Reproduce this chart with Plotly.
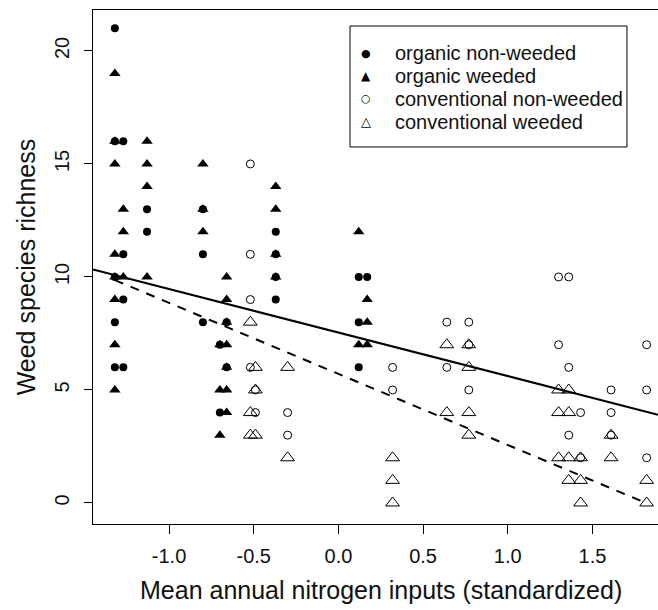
import plotly.graph_objects as go

# ---- data ----
org_nw_x = [-1.32, -1.32, -1.32, -1.32, -1.32,
            -1.27, -1.27, -1.27, -1.27,
            -1.13, -1.13,
            -0.80, -0.80, -0.80,
            -0.70, -0.70,
            -0.66, -0.66,
            -0.37, -0.37, -0.37, -0.37,
            0.12, 0.12, 0.12,
            0.17]
org_nw_y = [21, 16, 10, 8, 6,
            16, 11, 9, 6,
            13, 12,
            13, 11, 8,
            7, 4,
            8, 6,
            12, 11, 10, 9,
            10, 8, 6,
            10]

org_w_x = [-1.32, -1.32, -1.32, -1.32, -1.32, -1.32, -1.32, -1.32,
           -1.27, -1.27, -1.27,
           -1.13, -1.13, -1.13, -1.13,
           -0.80, -0.80, -0.80,
           -0.70, -0.70, -0.70,
           -0.66, -0.66, -0.66, -0.66, -0.66, -0.66, -0.66,
           -0.37, -0.37, -0.37, -0.37,
           0.12, 0.12,
           0.17, 0.17, 0.17]
org_w_y = [19, 16, 15, 11, 10, 9, 7, 5,
           13, 12, 10,
           16, 15, 14, 10,
           15, 13, 12,
           7, 5, 3,
           10, 9, 8, 7, 6, 5, 4,
           14, 13, 11, 10,
           12, 7,
           9, 8, 7]

conv_nw_x = [-0.52, -0.52, -0.52, -0.52,
             -0.49, -0.49,
             -0.30, -0.30,
             0.32, 0.32,
             0.64, 0.64,
             0.77, 0.77, 0.77,
             1.30, 1.30,
             1.36, 1.36, 1.36,
             1.43, 1.43,
             1.61, 1.61, 1.61,
             1.82, 1.82, 1.82]
conv_nw_y = [15, 11, 9, 6,
             4, 5,
             4, 3,
             6, 5,
             8, 6,
             8, 7, 5,
             10, 7,
             10, 6, 3,
             4, 2,
             5, 4, 3,
             7, 5, 2]

conv_w_x = [-0.52, -0.52, -0.52,
            -0.49, -0.49, -0.49,
            -0.30, -0.30,
            0.32, 0.32, 0.32,
            0.64, 0.64,
            0.77, 0.77, 0.77, 0.77,
            1.30, 1.30, 1.30,
            1.36, 1.36, 1.36, 1.36,
            1.43, 1.43, 1.43,
            1.61, 1.61,
            1.82, 1.82]
conv_w_y = [8, 4, 3,
            6, 5, 3,
            6, 2,
            2, 1, 0,
            7, 4,
            7, 6, 4, 3,
            5, 4, 2,
            5, 4, 2, 1,
            2, 1, 0,
            3, 2,
            1, 0]

# fitted lines: intercept, slope
solid_coef = (7.54, -1.925)
dashed_coef = (5.71, -3.145)
dashed_span = (-1.32, 1.82)

x_range = [-1.449, 1.887]
y_range = [-0.93, 21.81]
x_ticks = [-1.0, -0.5, 0.0, 0.5, 1.0, 1.5]
x_ticklabels = ["-1.0", "-0.5", "0.0", "0.5", "1.0", "1.5"]
y_ticks = [0, 5, 10, 15, 20]

legend_labels = ["organic non-weeded", "organic weeded",
                 "conventional non-weeded", "conventional weeded"]
legend_glyphs = ["\u25CF", "\u25B2", "\u25CB", "\u25B3"]
legend_glyph_sizes = [11, 12, 11, 13]

FONT = "Liberation Sans, Arial, sans-serif"
TXT = "#111111"

fig = go.Figure()

def add_pts(x, y, name, symbol, size, lw=1):
    fig.add_trace(go.Scatter(
        x=x, y=y, mode="markers", name=name, showlegend=False,
        marker=dict(symbol=symbol, size=size, color="black",
                    line=dict(color="black", width=lw)),
    ))

add_pts(org_nw_x, org_nw_y, legend_labels[0], "circle", 8, 0)
add_pts(org_w_x, org_w_y, legend_labels[1], "triangle-up", 10, 0)
add_pts(conv_nw_x, conv_nw_y, legend_labels[2], "circle-open", 8, 1)
add_pts(conv_w_x, conv_w_y, legend_labels[3], "triangle-up-open", 12, 1)

# regression lines
a, b = solid_coef
fig.add_trace(go.Scatter(x=x_range, y=[a + b * v for v in x_range], mode="lines",
                         line=dict(color="black", width=2), showlegend=False,
                         hoverinfo="skip"))
a, b = dashed_coef
fig.add_trace(go.Scatter(x=list(dashed_span), y=[a + b * v for v in dashed_span], mode="lines",
                         line=dict(color="black", width=2, dash="9px,8px"), showlegend=False,
                         hoverinfo="skip"))

# ---- legend (box + glyph + label), positioned in paper coordinates ----
leg_x0, leg_x1 = 0.4549, 0.9451
leg_top, leg_bot = 0.9689, 0.7335
row_y0, row_step = 0.9163, 0.0447
sym_x, txt_x = 0.4832, 0.5310

annotations = []
for i, (lab, gl, gs) in enumerate(zip(legend_labels, legend_glyphs, legend_glyph_sizes)):
    yy = row_y0 - i * row_step
    annotations.append(dict(text=gl, xref="paper", yref="paper", x=sym_x, y=yy,
                            xanchor="center", yanchor="middle", showarrow=False,
                            font=dict(family="DejaVu Sans", size=gs, color="black")))
    annotations.append(dict(text=lab, xref="paper", yref="paper", x=txt_x, y=yy,
                            xanchor="left", yanchor="middle", showarrow=False,
                            font=dict(family=FONT, size=20, color=TXT)))

annotations += [
    dict(text="Mean annual nitrogen inputs (standardized)", xref="paper", yref="paper",
         x=0.51, y=-0.128, xanchor="center", yanchor="middle", showarrow=False,
         font=dict(family=FONT, size=25, color=TXT)),
    dict(text="Weed species richness", xref="paper", yref="paper",
         x=-0.118, y=0.5, xanchor="center", yanchor="middle", showarrow=False,
         textangle=-90, font=dict(family=FONT, size=25, color=TXT)),
]

fig.update_layout(
    width=658, height=610,
    margin=dict(l=93, r=0, t=10, b=86),
    paper_bgcolor="white", plot_bgcolor="white",
    font=dict(family=FONT, color=TXT, size=20),
    showlegend=False,
    shapes=[dict(type="rect", xref="paper", yref="paper",
                 x0=leg_x0, x1=leg_x1, y0=leg_bot, y1=leg_top,
                 line=dict(color="black", width=1), fillcolor="rgba(0,0,0,0)")],
    xaxis=dict(range=x_range, tickvals=x_ticks, ticktext=x_ticklabels,
               showgrid=False, zeroline=False, showline=True, linecolor="black",
               linewidth=1, mirror=True, ticks="outside", ticklen=9, tickcolor="black",
               tickfont=dict(family=FONT, size=20, color=TXT), ticklabelstandoff=5),
    yaxis=dict(range=y_range, tickvals=y_ticks,
               showgrid=False, zeroline=False, showline=True, linecolor="black",
               linewidth=1, mirror=False, ticks="outside", ticklen=8, tickcolor="black",
               tickangle=-90,
               tickfont=dict(family=FONT, size=20, color=TXT), ticklabelstandoff=7),
    annotations=annotations,
)

fig.write_html("out.html")
